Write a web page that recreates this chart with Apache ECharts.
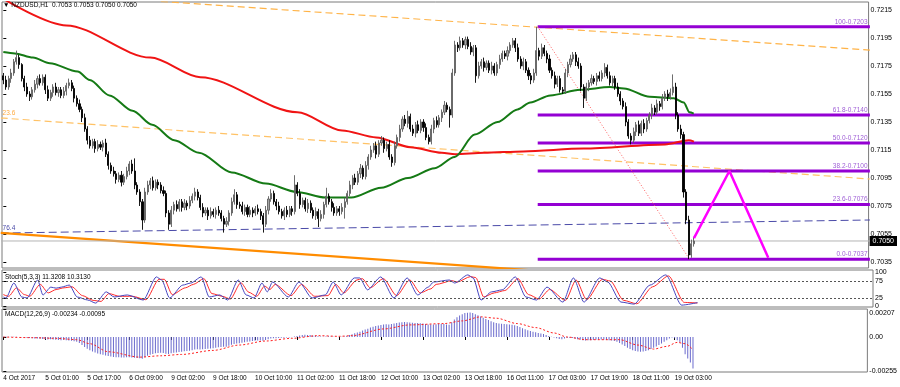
<!DOCTYPE html>
<html><head><meta charset="utf-8">
<script src="https://cdn.jsdelivr.net/npm/echarts@6/dist/echarts.min.js"></script>
<style>html,body{margin:0;padding:0;background:#fff}#c{width:900px;height:387px}</style>
</head><body><div id="c"></div>
<script>
// ---------------- DATA ----------------
const symbolTitle = '\u25BC NZDUSD,H1  0.7053 0.7053 0.7050 0.7050';
const stochTitle = 'Stoch(5,3,3) 11.3208 10.3130';
const macdTitle = 'MACD(12,26,9) -0.00234 -0.00095';

const timeLabels = ['4 Oct 2017','5 Oct 01:00','5 Oct 17:00','6 Oct 09:00','9 Oct 02:00','9 Oct 18:00','10 Oct 10:00','11 Oct 02:00','11 Oct 18:00','12 Oct 10:00','13 Oct 02:00','13 Oct 18:00','16 Oct 11:00','17 Oct 03:00','17 Oct 19:00','18 Oct 11:00','19 Oct 03:00'];
const LABEL_STEP = 16;      // bars between time labels (H1)
const SLOTS = 330;          // bar slots across the chart incl. right shift space

const priceTicks = [0.7035,0.7055,0.7075,0.7095,0.7115,0.7135,0.7155,0.7175,0.7195,0.7215];
const stochTicks = [0,25,75,100];
const macdTicks = [-0.00255,0,0.00207];

const PIP = 0.0001;
const firstOpen = 0.7168;
const closes = [
0.7165,0.7160,0.7166,0.7170,0.7178,0.7181,0.7176,0.7166,0.7160,0.7155,
0.7153,0.7158,0.7162,0.7166,0.7163,0.7167,0.7158,0.7152,0.7156,0.7160,
0.7156,0.7158,0.7154,0.7157,0.7161,0.7163,0.7159,0.7152,0.7148,0.7144,
0.7138,0.7130,0.7122,0.7118,0.7121,0.7116,0.7119,0.7117,0.7120,0.7112,
0.7104,0.7100,0.7098,0.7094,0.7097,0.7092,0.7096,0.7100,0.7105,0.7100,
0.7090,0.7085,0.7078,0.7065,0.7085,0.7090,0.7093,0.7088,0.7092,0.7090,
0.7086,0.7084,0.7070,0.7062,0.7072,0.7076,0.7073,0.7078,0.7074,0.7077,
0.7075,0.7079,0.7082,0.7085,0.7081,0.7074,0.7070,0.7072,0.7068,0.7071,
0.7069,0.7072,0.7070,0.7066,0.7062,0.7064,0.7070,0.7078,0.7083,0.7076,
0.7075,0.7071,0.7074,0.7069,0.7072,0.7070,0.7073,0.7071,0.7068,0.7062,
0.7072,0.7080,0.7084,0.7078,0.7075,0.7071,0.7068,0.7072,0.7069,0.7073,
0.7071,0.7090,0.7084,0.7076,0.7079,0.7073,0.7077,0.7072,0.7068,0.7071,
0.7066,0.7069,0.7076,0.7082,0.7078,0.7074,0.7070,0.7073,0.7071,0.7074,
0.7078,0.7084,0.7090,0.7095,0.7092,0.7098,0.7102,0.7096,0.7104,0.7110,
0.7115,0.7118,0.7112,0.7120,0.7122,0.7116,0.7119,0.7110,0.7106,0.7118,
0.7124,0.7130,0.7137,0.7134,0.7139,0.7130,0.7127,0.7133,0.7129,0.7135,
0.7131,0.7124,0.7121,0.7130,0.7136,0.7133,0.7138,0.7142,0.7147,0.7144,
0.7140,0.7170,0.7190,0.7188,0.7193,0.7190,0.7194,0.7189,0.7185,0.7188,
0.7168,0.7175,0.7178,0.7174,0.7177,0.7172,0.7175,0.7170,0.7176,0.7180,
0.7184,0.7182,0.7186,0.7190,0.7193,0.7188,0.7180,0.7175,0.7178,0.7172,
0.7168,0.7165,0.7170,0.7186,0.7182,0.7188,0.7184,0.7180,0.7172,0.7168,
0.7162,0.7166,0.7158,0.7157,0.7170,0.7176,0.7180,0.7183,0.7178,0.7175,
0.7160,0.7152,0.7160,0.7163,0.7166,0.7164,0.7168,0.7166,0.7170,0.7174,
0.7168,0.7163,0.7166,0.7160,0.7155,0.7150,0.7146,0.7135,0.7125,0.7122,
0.7128,0.7133,0.7127,0.7134,0.7130,0.7136,0.7140,0.7145,0.7142,0.7148,
0.7146,0.7152,0.7155,0.7153,0.7156,0.7160,0.7140,0.7130,0.7126,0.7085,
0.7065,0.7040,0.7048,0.7050];
const upperWickPips = [
2,3,2,3,2,5,2,1,2,3, 2,2,3,2,3,2,2,3,2,2, 3,2,2,3,2,3,2,2,2,3, 2,3,2,3,2,2,3,2,2,3,
2,2,3,2,2,3,2,3,2,3, 9,2,2,2,3,3,2,3,2,2, 2,3,2,2,3,2,3,2,2,3, 2,3,2,3,2,2,3,2,2,3,
2,2,3,2,2,3,2,3,4,2, 2,3,2,2,3,2,2,3,2,2, 3,2,3,2,2,3,2,2,3,2, 2,7,2,3,2,2,3,2,2,3,
2,3,2,6,2,2,3,2,2,3, 3,2,3,2,3,2,3,2,3,2, 3,2,3,2,3,2,2,3,2,3, 2,3,2,3,4,2,3,2,3,2,
2,3,2,3,2,3,2,2,3,2, 2,3,3,2,3,2,2,2,3,2, 2,3,2,3,2,2,3,2,2,3, 2,2,3,2,2,2,3,2,3,2,
2,2,3,17,2,3,2,2,3,2, 3,2,2,2,3,2,3,2,2,3, 2,2,3,2,3,2,2,3,2,3, 2,3,2,2,3,2,2,3,2,2,
3,2,3,2,3,2,2,3,2,3, 2,3,2,3,3,9,3,2,3,2, 2,3,3,3];
const lowerWickPips = [
3,2,2,3,2,2,3,2,3,2, 3,2,2,3,2,2,3,2,2,3, 2,3,2,2,3,2,2,3,2,2, 3,2,3,2,2,3,2,2,3,2,
3,2,2,3,2,3,2,2,3,2, 3,2,3,7,2,2,3,2,2,3, 2,2,3,4,2,3,2,2,3,2, 3,2,2,3,2,2,3,2,3,2,
2,3,2,2,6,2,3,2,2,3, 2,2,3,2,2,3,2,2,3,6, 2,3,2,2,3,2,2,3,2,2, 3,2,2,3,2,2,3,2,2,3,
6,2,3,2,2,3,2,2,3,2, 8,2,2,3,2,2,3,2,2,3, 2,2,3,2,2,3,2,2,3,2, 2,3,2,2,3,2,2,3,2,2,
3,2,2,2,3,2,2,3,2,2, 9,2,2,3,2,2,3,2,2,3, 5,2,2,3,2,2,3,2,2,3, 2,2,3,2,2,3,2,2,3,2,
3,3,2,2,3,2,2,3,2,2, 3,2,2,2,2,3,2,2,3,2, 3,7,2,3,2,2,3,2,2,3, 2,2,3,2,2,3,2,3,2,3,
2,3,2,2,3,2,2,3,2,2, 3,2,2,3,2,2,3,2,3,4, 3,3,2,2];

// moving averages [bar, price]
const maGreen = [[0,0.7185],[4.4,0.7184],[11.3,0.7181],[17.7,0.7177],[28.3,0.7171],[32.9,0.7165],[40.4,0.7154],[49.2,0.7143],[56.7,0.7133],[65.1,0.7122],[74.5,0.7113],[87,0.7099],[100,0.7091],[111.7,0.7085],[122.7,0.7081],[132.5,0.7081],[143.9,0.7088],[154.1,0.7095],[164.3,0.7102],[171.9,0.7110],[179.5,0.7126],[188.2,0.7135],[195.8,0.7144],[200.7,0.7149],[208.3,0.7154],[219.7,0.7158],[231,0.7160],[236.3,0.7159],[246.2,0.7153],[255.3,0.7152],[259.1,0.7149],[261.3,0.7142],[262.9,0.7141]];
const maRed = [[0,0.7223],[24,0.7204],[56,0.7181],[75,0.7167],[112,0.7142],[129,0.7129],[142,0.7124],[155,0.7117],[167,0.7113],[172,0.7112],[183,0.7113],[198,0.7114],[221,0.7116],[252,0.7119],[261,0.7122],[263,0.7121]];

// drawn objects [bar, price]
const upperTrend = [[60,0.72211],[330,0.71864]];
const fibChannel236 = [[-1,0.71378],[0.3,0.71377],[330,0.70943]];
const fibChannel764 = [[-1,0.70558],[0.3,0.70557],[330,0.70650]];
const lowerTrend = [[-1,0.70558],[200,0.70292]];
const fibStart = 203.5, fibLabelAt = 329.3;
const fibLevels = [0.7203,0.7140,0.7120,0.7100,0.7076,0.7037];
const fibRatios = ['100','61.8','50.0','38.2','23.6','0.0'];
const fibTrend = [[203.5,0.7203],[261.3,0.7037]];
const projection = [[263,0.7052],[276.5,0.7100],[291.3,0.7038]];
const lastPrice = 0.7050;

// stochastic [bar, value]
const stochMain = [[0,28],[1,25],[4,69],[7,28],[9,25],[13,78],[15,34],[18,57],[20,54],[22,57],[25,63],[28,28],[32,19],[35,10],[39,43],[42,28],[47,34],[53,19],[58,87],[60,78],[63,25],[68,63],[71,69],[75,87],[78,28],[82,34],[85,19],[89,78],[92,34],[95,25],[98,69],[100,43],[102,72],[108,28],[112,72],[117,25],[122,34],[125,72],[128,34],[133,84],[135,84],[138,49],[143,87],[148,25],[153,84],[157,34],[161,57],[163,72],[169,78],[171,69],[176,93],[178,84],[181,19],[185,43],[189,49],[194,87],[198,28],[202,19],[206,57],[212,13],[216,84],[220,13],[226,84],[229,72],[234,13],[239,7],[245,63],[251,93],[257,4],[263,11.32]];
const stochSignal = [[0,35],[2,30],[5,55],[8,35],[10,30],[14,65],[17,40],[20,50],[23,55],[26,58],[30,32],[34,18],[37,15],[40,38],[44,30],[49,30],[54,20],[59,80],[61,80],[64,35],[69,55],[72,65],[76,82],[79,38],[83,30],[86,22],[90,70],[93,42],[96,30],[99,60],[101,50],[103,65],[109,32],[113,65],[118,30],[123,32],[126,65],[129,40],[134,78],[136,82],[139,55],[144,82],[149,32],[154,78],[158,40],[162,52],[164,65],[170,76],[172,72],[177,88],[179,85],[182,28],[186,40],[190,47],[195,82],[199,35],[203,22],[207,50],[213,18],[217,78],[221,20],[227,80],[230,75],[235,18],[240,8],[246,58],[252,90],[258,12],[263,10.31]];

// MACD histogram (one per bar) and signal [bar, value]
const macdHist = [
0.00002,0.00003,0.00002,0.00001,0.00002,0.00001,0,-0.00002,-0.00004,-0.00006,
-0.00008,-0.00010,-0.00012,-0.00011,-0.00013,-0.00015,-0.00016,-0.00018,-0.00017,-0.00019,
-0.00021,-0.00022,-0.00024,-0.00023,-0.00025,-0.00026,-0.00028,-0.00031,-0.00035,
-0.00045,-0.00060,-0.00075,-0.00088,-0.00098,
-0.00108,-0.00116,-0.00123,-0.00128,
-0.00133,-0.00137,-0.00142,-0.00146,-0.00149,-0.00151,-0.00150,-0.00152,-0.00153,-0.00151,-0.00150,-0.00152,-0.00154,-0.00156,-0.00158,-0.00162,
-0.00150,-0.00140,-0.00132,-0.00126,-0.00122,-0.00120,-0.00118,-0.00120,-0.00124,-0.00126,
-0.00122,-0.00118,-0.00115,-0.00112,-0.00110,-0.00107,-0.00105,-0.00102,-0.00098,-0.00094,-0.00092,-0.00094,
-0.00092,-0.00090,-0.00088,-0.00086,-0.00083,-0.00080,-0.00077,-0.00074,-0.00073,-0.00072,-0.00066,
-0.00058,-0.00052,-0.00048,-0.00046,-0.00043,-0.00040,-0.00036,-0.00033,-0.00030,-0.00028,-0.00027,-0.00026,
-0.00028,-0.00022,-0.00016,-0.00012,-0.00010,-0.00009,-0.00008,-0.00006,-0.00005,-0.00004,-0.00003,-0.00001,0.00003,0.00008,
0.00012,0.00014,0.00016,0.00015,0.00014,0.00012,0.00010,0.00006,
0.00003,0.00002,0.00004,0.00005,0.00003,0.00001,0.00000,-0.00001,0.00001,0.00003,
0.00008,0.00014,0.00020,0.00027,0.00033,0.00040,0.00048,0.00055,0.00062,
0.00070,0.00076,0.00082,0.00086,0.00090,0.00093,0.00095,0.00094,
0.00096,0.00100,0.00104,0.00108,0.00110,0.00112,0.00110,0.00108,0.00106,0.00105,0.00104,0.00102,0.00100,0.00097,0.00094,
0.00093,0.00094,0.00095,0.00096,0.00097,0.00096,0.00094,0.00092,
0.00110,0.00130,0.00148,0.00160,0.00170,0.00178,
0.00180,0.00182,0.00178,0.00170,
0.00162,0.00152,0.00144,0.00135,0.00127,0.00118,0.00110,0.00104,
0.00100,0.00098,0.00096,0.00095,0.00094,0.00092,0.00088,0.00082,0.00074,0.00066,0.00058,
0.00050,0.00044,0.00040,0.00036,0.00030,0.00026,0.00022,
0.00015,0.00008,0.00002,-0.00004,-0.00010,-0.00014,-0.00016,-0.00012,-0.00008,-0.00006,-0.00008,-0.00012,-0.00016,
-0.00020,-0.00024,-0.00026,-0.00025,-0.00024,-0.00022,-0.00021,-0.00020,-0.00019,-0.00020,-0.00022,-0.00024,-0.00026,-0.00030,
-0.00036,-0.00045,-0.00056,-0.00068,-0.00080,-0.00090,-0.00098,
-0.00104,-0.00108,-0.00110,-0.00108,-0.00104,
-0.00098,-0.00090,-0.00080,-0.00070,-0.00060,-0.00048,-0.00036,-0.00024,-0.00012,-0.00004,
-0.00010,-0.00025,-0.00040,-0.00080,-0.00128,-0.00160,-0.00190,-0.00234];
const macdSignal = [[0,0],[11,-0.00005],[20,-0.0001],[28,-0.0002],[33,-0.0005],[40,-0.0011],[52,-0.0015],[60,-0.0014],[68,-0.0013],[80,-0.0010],[90,-0.0006],[100,-0.0003],[110,-0.0001],[120,0.0001],[128,0.00005],[133,0.0001],[145,0.0006],[155,0.0009],[168,0.0010],[175,0.0012],[182,0.0015],[188,0.0014],[196,0.0010],[203,0.0007],[210,0.0003],[215,0.0000],[222,-0.0002],[235,-0.0002],[242,-0.0006],[248,-0.0009],[253,-0.0007],[257,-0.0004],[260,-0.0005],[263,-0.00095]];

// ---------------- CHART ----------------
const F = 'Liberation Sans, Arial, sans-serif';
const cats = Array.from({length: SLOTS}, (_, i) => String(i));
const candles = closes.map((c, i) => {
  const o = i ? closes[i - 1] : firstOpen;
  return [o, c, Math.min(o, c) - lowerWickPips[i] * PIP, Math.max(o, c) + upperWickPips[i] * PIP];
});
const isLabelIdx = (idx) => idx % LABEL_STEP === 0 && idx / LABEL_STEP < timeLabels.length;

const gridBase = {left: 2, width: 871, show: true, borderColor: '#7a7a7a', borderWidth: 1, backgroundColor: '#fff'};
const hiddenCat = (g) => ({gridIndex: g, type: 'category', data: cats, boundaryGap: true, axisLine: {show: false}, axisTick: {show: false}, axisLabel: {show: false}, splitLine: {show: false}});
const hiddenVal = (g) => ({gridIndex: g, type: 'value', min: -0.5, max: SLOTS - 0.5, show: false});
const txt = {fontFamily: F, fontSize: 7, color: '#000'};

function overlay(data, lineStyle, z, extra) {
  return Object.assign({type: 'line', xAxisIndex: 1, yAxisIndex: 0, data, symbol: 'none', silent: true, animation: false, lineStyle, z: z || 3}, extra || {});
}
function labelPoint(value, text, color, align) {
  return {value, label: {show: true, formatter: text, position: [0, 0], align: align, verticalAlign: 'bottom', offset: [align === 'right' ? 0 : -1, -1], color, fontSize: 6.5, fontFamily: F}};
}

const series = [];
series.push(overlay(upperTrend, {color: '#ffb347', width: 1.2, type: [7, 4]}, 2));
series.push(overlay(fibChannel236.map((p, i) => i === 1 ? labelPoint(p, '23.6', '#ffab40', 'left') : p), {color: '#ffc266', width: 1.2, type: [7, 4]}, 2, {symbol: 'circle', symbolSize: 1, itemStyle: {color: 'rgba(0,0,0,0)'}}));
series.push(overlay(fibChannel764.map((p, i) => i === 1 ? labelPoint(p, '76.4', '#4a4aa8', 'left') : p), {color: '#4a4aa8', width: 1, type: [8, 4]}, 2, {symbol: 'circle', symbolSize: 1, itemStyle: {color: 'rgba(0,0,0,0)'}}));
series.push(overlay(lowerTrend, {color: '#ff8c00', width: 2.2}, 2));
series.push(overlay([[-1, lastPrice], [SLOTS, lastPrice]], {color: '#b4b4b4', width: 1}, 2));
fibLevels.forEach((lv, k) => {
  series.push(overlay([[fibStart, lv], labelPoint([fibLabelAt, lv], fibRatios[k] + '-' + lv.toFixed(4), '#9f5fd6', 'right'), [SLOTS, lv]],
    {color: '#9400d3', width: 3}, 3, {symbol: 'circle', symbolSize: 1, itemStyle: {color: 'rgba(0,0,0,0)'}}));
});
series.push(overlay(fibTrend, {color: '#ff6060', width: 1, type: [1, 2]}, 3));
series.push(overlay(maRed, {color: '#f01414', width: 2}, 4, {smooth: 0.3, smoothMonotone: 'x'}));
series.push(overlay(maGreen, {color: '#157a15', width: 2}, 4, {smooth: 0.3, smoothMonotone: 'x'}));
series.push({
  type: 'candlestick', xAxisIndex: 0, yAxisIndex: 0, data: candles, barWidth: 1.6, z: 5, silent: true, animation: false,
  itemStyle: {color: '#a4a4a4', color0: '#000', borderColor: '#5e5e5e', borderColor0: '#000', borderWidth: 0.9}
});
series.push(overlay(projection, {color: '#ff00ff', width: 2.5}, 6));

// stochastic
series.push({type: 'line', xAxisIndex: 2, yAxisIndex: 1, data: stochSignal, symbol: 'none', smooth: 0.25, smoothMonotone: 'x', silent: true, animation: false, lineStyle: {color: '#ff2a2a', width: 1}, z: 3,
  markLine: {silent: true, symbol: ['none', 'none'], animation: false, label: {show: false}, lineStyle: {color: '#555', type: [2, 2], width: 1}, data: [{yAxis: 75}, {yAxis: 25}]}});
series.push({type: 'line', xAxisIndex: 2, yAxisIndex: 1, data: stochMain, symbol: 'none', smooth: 0.25, smoothMonotone: 'x', silent: true, animation: false, lineStyle: {color: '#4646c0', width: 1}, z: 4});

// MACD
series.push({type: 'bar', xAxisIndex: 3, yAxisIndex: 2, data: macdHist, barWidth: 1, silent: true, animation: false, itemStyle: {color: '#6a6acd'}, z: 2});
series.push({type: 'line', xAxisIndex: 4, yAxisIndex: 2, data: macdSignal, symbol: 'none', smooth: 0.3, smoothMonotone: 'x', silent: true, animation: false, lineStyle: {color: '#ff2020', width: 1, type: [2, 2]}, z: 3});

const priceAxisBase = {gridIndex: 0, type: 'value', position: 'right', min: 0.703071, max: 0.722071, splitLine: {show: false}, axisLine: {show: false}};
const option = {
  animation: false,
  backgroundColor: '#fff',
  title: [
    {text: symbolTitle, left: 3, top: 2, padding: 0, textStyle: Object.assign({}, txt, {fontSize: 6.5, fontWeight: 'normal'})},
    {text: stochTitle, left: 5, top: 274, padding: 0, textStyle: Object.assign({}, txt, {fontSize: 6.5, fontWeight: 'normal'})},
    {text: macdTitle, left: 5, top: 311, padding: 0, textStyle: Object.assign({}, txt, {fontSize: 6.5, fontWeight: 'normal'})}
  ],
  grid: [
    Object.assign({}, gridBase, {top: 2, height: 266}),
    Object.assign({}, gridBase, {top: 270, height: 37}),
    Object.assign({}, gridBase, {top: 309, height: 63})
  ],
  xAxis: [
    hiddenCat(0), hiddenVal(0), hiddenVal(1),
    {gridIndex: 2, type: 'category', data: cats, boundaryGap: true, splitLine: {show: false}, axisLine: {show: false},
      axisTick: {show: true, alignWithLabel: true, interval: isLabelIdx, length: 3, lineStyle: {color: '#000'}},
      axisLabel: {show: true, interval: isLabelIdx, formatter: (v) => timeLabels[Number(v) / LABEL_STEP], align: 'left', margin: 3, fontFamily: F, fontSize: 6.5, color: '#000'}},
    hiddenVal(2)
  ],
  yAxis: [
    Object.assign({}, priceAxisBase, {
      axisTick: {show: true, customValues: priceTicks, length: 3, lineStyle: {color: '#000'}},
      axisLabel: Object.assign({customValues: priceTicks, hideOverlap: false, formatter: (v) => v.toFixed(4), margin: 2}, txt)}),
    {gridIndex: 1, type: 'value', position: 'right', min: -1.5, max: 107.4, splitLine: {show: false}, axisLine: {show: false},
      axisTick: {show: true, customValues: stochTicks, length: 3, lineStyle: {color: '#000'}},
      axisLabel: Object.assign({customValues: stochTicks, hideOverlap: false, showMinLabel: true, showMaxLabel: true, margin: 2,
        formatter: (v) => String(v)}, txt)},
    {gridIndex: 2, type: 'value', position: 'right', min: -0.002608, max: 0.002086, splitLine: {show: false}, axisLine: {show: false},
      axisTick: {show: true, customValues: macdTicks, length: 3, lineStyle: {color: '#000'}},
      axisLabel: Object.assign({customValues: macdTicks, hideOverlap: false, margin: 2,
        formatter: (v) => v > 0 ? '{a|' + v.toFixed(5) + '}' : v < 0 ? v.toFixed(5) : '0.00',
        rich: {a: Object.assign({padding: [8, 0, 0, 0]}, txt)}}, txt)},
    Object.assign({}, priceAxisBase, {
      axisTick: {show: false},
      axisLabel: Object.assign({}, txt, {customValues: [lastPrice], hideOverlap: false, formatter: (v) => v.toFixed(4), margin: 1,
        color: '#fff', backgroundColor: '#000', padding: [2, 3, 1, 3]})})
  ],
  series
};
const chart = echarts.init(document.getElementById('c'));
chart.setOption(option);
</script></body></html>
